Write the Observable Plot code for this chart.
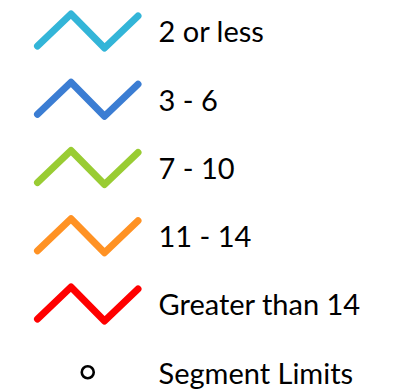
<!DOCTYPE html>
<html>
<head>
<meta charset="utf-8">
<script src="https://cdn.jsdelivr.net/npm/d3@7"></script>
<script src="https://cdn.jsdelivr.net/npm/@observablehq/plot@0.6"></script>
<style>
  html, body { margin: 0; padding: 0; background: #fff; }
</style>
</head>
<body>
<div id="chart"></div>
<script>
// Legend categories and their colours
const categories = ["2 or less", "3 - 6", "7 - 10", "11 - 14", "Greater than 14"];
const seriesColors = ["#33B5D8", "#3B7DD3", "#99CC33", "#FF9224", "#FF0000"];
const markerLabel = "Segment Limits";
// Zigzag glyph shape (relative vertices)
const glyphX = [0, 1, 2, 3];
const glyphY = [1, -1, 1, -1];

const labels = [...categories, markerLabel];

const lineData = categories.flatMap((c, i) =>
  glyphX.map((gx, k) => ({ cat: c, row: i, gx, gy: glyphY[k] * (k === 0 || k === 3 ? 0.88 : 1) }))
);
const labelData = labels.map((l, i) => ({ label: l, row: i }));
const markerData = [{ row: categories.length }];

// row -> pixel helpers expressed via the scale domains
const amp = 0.25;        // zigzag half-height in row units
const xStart = 37, xStep = 33.5; // glyph horizontal extent in x units

const chart = Plot.plot({
  width: 402,
  height: 391,
  margin: 0,
  x: { domain: [0, 402], axis: null },
  y: { domain: [-0.447, 5.282], reverse: true, axis: null },
  color: { domain: categories, range: seriesColors },
  marks: [
    Plot.line(lineData, {
      x: d => xStart + d.gx * xStep,
      y: d => d.row + d.gy * amp,
      z: "cat",
      stroke: "cat",
      strokeWidth: 7,
      strokeLinecap: "round",
      strokeLinejoin: "round"
    }),
    Plot.dot(markerData, {
      x: () => xStart + 1.5 * xStep,
      y: "row",
      r: 6,
      stroke: "#000",
      strokeWidth: 2.6,
      fill: "#fff"
    }),
    Plot.text(labelData, {
      x: () => 158,
      y: "row",
      text: "label",
      textAnchor: "start",
      dy: 2,
      fontSize: 29,
      fontFamily: "Lato, 'Open Sans', sans-serif",
      fill: "#000"
    })
  ]
});
document.getElementById("chart").appendChild(chart);
</script>
</body>
</html>
